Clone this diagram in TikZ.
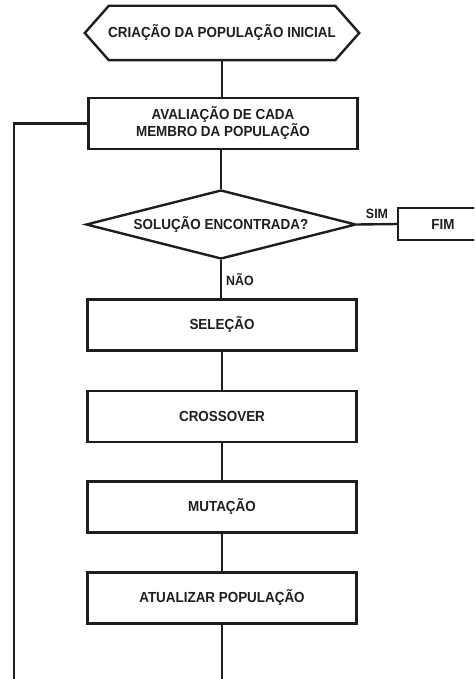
\documentclass[tikz,border=0pt]{standalone}
\usepackage{fontspec}
\setmainfont{Liberation Sans}[FakeStretch=0.92]
\usetikzlibrary{shapes.geometric,calc}
\definecolor{ink}{RGB}{30,30,30}
\begin{document}
\begin{tikzpicture}[x=1pt,y=-1pt,line width=2.4pt,line join=miter,
  lbl/.style={font=\fontsize{14.6}{14.5}\selectfont\bfseries, text=ink},
  smalllbl/.style={font=\fontsize{13.5}{13}\selectfont\bfseries, text=ink},
  procbox/.style={rectangle, draw=ink, minimum width=269, minimum height=51, inner sep=0, align=center, lbl},
  decision/.style={diamond, draw=ink, aspect=3.9, minimum width=270, minimum height=69, inner sep=0, lbl},
  flow/.style={draw=ink}]
\useasboundingbox (0,0) rectangle (474,679);
\clip (0,0) rectangle (474,679);

% start terminal (hexagon drawn around a plain node)
\node[lbl, minimum width=272, minimum height=52, inner sep=0] (init) at (222,33) {CRIAÇÃO DA POPULAÇÃO INICIAL};
\draw[flow] (init.west) -- ($(init.north west)+(24,0)$) -- ($(init.north east)+(-24,0)$)
  -- (init.east) -- ($(init.south east)+(-24,0)$) -- ($(init.south west)+(24,0)$) -- cycle;

% process steps
\node[procbox] (eval) at (223,123.5) {AVALIAÇÃO DE CADA\\MEMBRO DA POPULAÇÃO};
\node[decision] (test) at (221,224.5) {SOLUÇÃO ENCONTRADA?};
\node[procbox, minimum width=90, minimum height=32] (fim) at (443,224) {FIM};
\node[procbox] (sel) at (222,325) {SELEÇÃO};
\node[procbox] (cross) at (222,416.5) {CROSSOVER};
\node[procbox] (mut) at (222,507) {MUTAÇÃO};
\node[procbox] (upd) at (222,598) {ATUALIZAR POPULAÇÃO};

% connectors
\draw[flow] (init) -- (init |- eval.north);
\draw[flow] (eval.south -| test.north) -- (test.north);
\draw[flow] (test.east) -- node[smalllbl, pos=0.5, above, inner sep=1pt, yshift=3pt] {SIM} (fim.west);
\draw[flow] (test.south) -- node[smalllbl, midway, anchor=west, inner sep=1pt, xshift=3pt] {NÃO} (test.south |- sel.north);
\draw[flow] (sel) -- (cross);
\draw[flow] (cross) -- (mut);
\draw[flow] (mut) -- (upd);

% feedback loop back to the evaluation step
\coordinate (loopx) at (14,720);
\draw[flow] (upd.south) |- (loopx) |- (eval.west);
\end{tikzpicture}
\end{document}
